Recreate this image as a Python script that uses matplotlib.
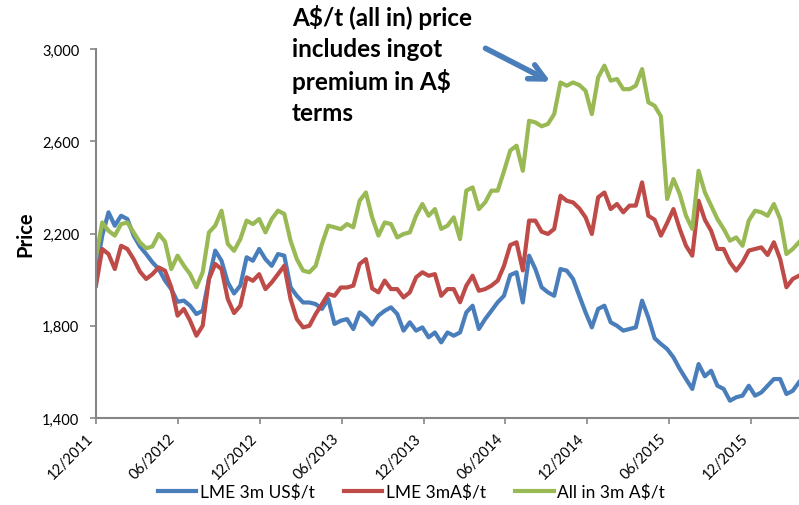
import matplotlib
matplotlib.use("Agg")
import matplotlib.pyplot as plt
import matplotlib.dates as mdates
from matplotlib.patches import FancyArrowPatch
from matplotlib.ticker import FuncFormatter
import pandas as pd

plt.rcParams['font.family'] = ['Lato', 'DejaVu Sans']

# values, one every two weeks from 12/2011
lme_usd = [2032, 2191, 2292, 2234, 2277, 2263, 2191, 2144, 2111, 2075,
           2046, 1996, 1959, 1904, 1909, 1887, 1851, 1865, 2003, 2126,
           2082, 1988, 1940,
           1974, 2097, 2082, 2133, 2089, 2060, 2111, 2104, 1967, 1930,
           1901, 1901, 1894, 1873, 1916, 1808, 1822, 1829, 1786, 1858, 1836,
           1805,
           1844, 1865, 1880, 1851, 1779, 1815, 1779, 1793, 1750, 1771,
           1728, 1771, 1757, 1771, 1858, 1887, 1786, 1829, 1865, 1902, 1930,
           2020,
           2032, 1901, 2104, 2046, 1967, 1945, 1930, 2046, 2039, 2003,
           1930, 1858, 1793, 1873, 1887, 1815, 1800, 1779, 1786, 1793, 1909, 1836,
           1746,
           1721, 1699, 1663, 1613, 1569, 1526, 1634, 1581, 1605, 1540,
           1526, 1475, 1490, 1497, 1540, 1497, 1511, 1540, 1569, 1569, 1504, 1518,
           1555]

lme_aud = [1974, 2133, 2111, 2046, 2147, 2133, 2089, 2035, 2003, 2024,
           2053, 2039, 1967, 1844, 1873, 1822, 1757, 1800, 2003, 2068,
           2046, 1916, 1855,
           1887, 2010, 1995, 2024, 1959, 1988, 2024, 2060, 1916, 1829,
           1793, 1800, 1851, 1894, 1938, 1930, 1966, 1966, 1974, 2068, 2089,
           1962,
           1945, 1996, 1959, 1959, 1923, 1945, 2010, 2032, 2017, 2024,
           1930, 1959, 1959, 1902, 1974, 2017, 1952, 1959, 1974, 1996, 2060,
           2150,
           2162, 2040, 2256, 2256, 2208, 2198, 2220, 2364, 2342, 2335,
           2309, 2270, 2198, 2357, 2378, 2306, 2328, 2292, 2321, 2321, 2422, 2277,
           2260,
           2191, 2246, 2306, 2220, 2147, 2104, 2342, 2260, 2212, 2133,
           2133, 2075, 2039, 2075, 2126, 2133, 2140, 2107, 2162, 2089, 1967, 2003,
           2017]

all_in_aud = [2097, 2248, 2212, 2191, 2241, 2248, 2205, 2162, 2136, 2144,
              2198, 2165, 2046, 2104, 2061, 2024, 1967, 2032, 2205, 2234,
              2299, 2155, 2125,
              2176, 2256, 2241, 2263, 2205, 2263, 2299, 2285, 2169, 2089,
              2039, 2032, 2060, 2154, 2234, 2227, 2219, 2241, 2227, 2342, 2378,
              2270,
              2191, 2248, 2241, 2183, 2198, 2205, 2277, 2328, 2277, 2306,
              2220, 2234, 2270, 2176, 2386, 2400, 2306, 2335, 2386, 2386, 2470,
              2560,
              2581, 2472, 2689, 2682, 2665, 2675, 2718, 2855, 2841, 2855,
              2844, 2819, 2718, 2877, 2928, 2863, 2870, 2826, 2826, 2841, 2913, 2769,
              2754,
              2708, 2350, 2436, 2371, 2277, 2220, 2472, 2379, 2321, 2263,
              2220, 2169, 2183, 2147, 2256, 2299, 2292, 2277, 2328, 2263, 2111, 2133,
              2162]

series_names = ["LME 3m US\\$/t", "LME 3mA\\$/t", "All in 3m A\\$/t"]
colors = ["#4A7EBB", "#BE4B48", "#98B954"]

dates = pd.date_range("2011-12-01", periods=len(lme_usd), freq="14D")

fig = plt.figure(figsize=(7.99, 5.06), dpi=100)
ax = fig.add_axes([0.1201, 0.1719, 0.8799, 0.7292])

for vals, name, c in zip([lme_usd, lme_aud, all_in_aud], series_names, colors):
    ax.plot(dates, vals, color=c, lw=3.0, label=name, solid_joinstyle="round")

ax.set_ylim(1400, 3000)
ax.set_yticks([1400, 1800, 2200, 2600, 3000])
ax.yaxis.set_major_formatter(FuncFormatter(lambda v, p: f"{v:,.0f}"))
ax.set_xlim(pd.Timestamp("2011-12-01"), pd.Timestamp("2016-03-17"))
ax.xaxis.set_major_locator(mdates.MonthLocator(bymonth=[6, 12]))
ax.xaxis.set_major_formatter(mdates.DateFormatter("%m/%Y"))

for s in ["top", "right"]:
    ax.spines[s].set_visible(False)
for s in ["left", "bottom"]:
    ax.spines[s].set_color("#868686")
    ax.spines[s].set_linewidth(1.5)
ax.tick_params(axis="both", color="#868686", width=1.2, length=4,
               labelsize=10.5, labelcolor="black", pad=5)
ax.tick_params(axis="y", pad=8)
plt.setp(ax.get_xticklabels(), rotation=45, ha="right")

ax.set_ylabel("Price", fontsize=14.5, fontweight="bold", labelpad=5)

fig.legend(loc="center", bbox_to_anchor=(0.515, 0.026), ncol=3, frameon=False,
           fontsize=12.5, handlelength=2.2, handletextpad=0.2, columnspacing=1.7)

fig.text(292 / 799, 1 - 5 / 506,
         "A\\$/t (all in) price\nincludes ingot\npremium in A\\$\nterms",
         fontsize=17.5, fontweight="bold", va="top", ha="left", linespacing=1.4)

arrow = FancyArrowPatch((483 / 799, 1 - 48 / 506), (553 / 799, 1 - 84 / 506),
                        transform=fig.transFigure, arrowstyle="->",
                        mutation_scale=28, lw=4, color="#4A7EBB",
                        capstyle="round", joinstyle="round")
fig.add_artist(arrow)

fig.savefig("out.png", dpi=100)
